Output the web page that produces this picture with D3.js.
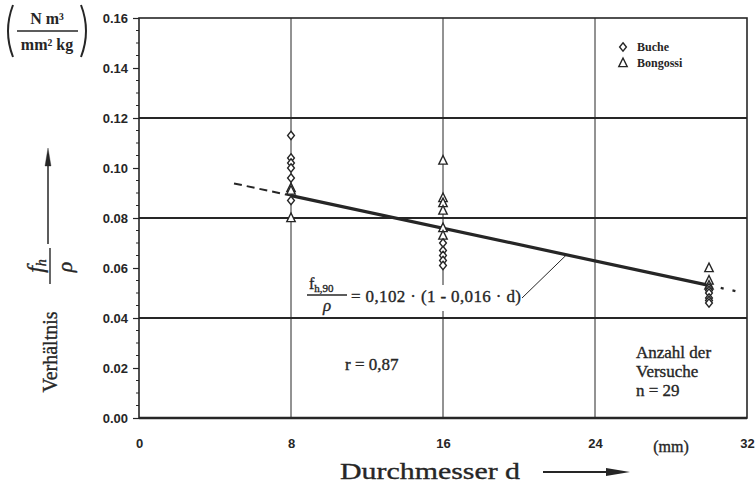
<!DOCTYPE html>
<html>
<head>
<meta charset="utf-8">
<script src="https://cdn.jsdelivr.net/npm/d3@7"></script>
<style>
  html, body { margin: 0; padding: 0; background: #fff; }
  svg { display: block; }
  .serif { font-family: "Liberation Serif", "DejaVu Serif", serif; }
  .sans { font-family: "Liberation Sans", Arial, sans-serif; }
  .ink { stroke: #262626; stroke-width: 0.35px; }
</style>
</head>
<body>
<svg id="chart" width="755" height="488"></svg>
<script>
// Diameters (mm) and ratio f_h / rho for both wood species
const bucheD = [8, 8, 8, 8, 8, 8, 16, 16, 16, 16, 16, 30, 30, 30, 30, 30, 30];
const bucheV = [0.113, 0.104, 0.102, 0.100, 0.096, 0.087,
                0.070, 0.067, 0.065, 0.063, 0.061,
                0.052, 0.051, 0.050, 0.048, 0.047, 0.046];
const bongD = [8, 8, 8, 16, 16, 16, 16, 16, 16, 30, 30, 30];
const bongV = [0.092, 0.091, 0.080,
               0.103, 0.088, 0.086, 0.083, 0.076, 0.073,
               0.060, 0.055, 0.053];

// Regression f_h,90 / rho = a * (1 - b * d)
const fitA = 0.102;
const fitB = 0.016;
const fitSolid = [8, 30];
const fitDashed = [5, 8];
const fitDotted = [30, 31.6];

const yTicks = [0.00, 0.02, 0.04, 0.06, 0.08, 0.10, 0.12, 0.14, 0.16];
const xTicks = [0, 8, 16, 24, 32];
const hGrid = [0.04, 0.08, 0.12];
const vGrid = [8, 16, 24];

const ink = "#262626";
const svg = d3.select("#chart");

const x = d3.scaleLinear().domain([0, 32]).range([139, 747]);
const y = d3.scaleLinear().domain([0, 0.16]).range([418, 18]);
const fit = d => fitA * (1 - fitB * d);

// grid
svg.append("g").selectAll("line").data(vGrid).join("line")
  .attr("x1", d => x(d)).attr("x2", d => x(d))
  .attr("y1", y(0)).attr("y2", y(0.16))
  .attr("stroke", ink).attr("stroke-width", 1);
svg.append("g").selectAll("line").data(hGrid).join("line")
  .attr("x1", x(0)).attr("x2", x(32))
  .attr("y1", d => y(d)).attr("y2", d => y(d))
  .attr("stroke", ink).attr("stroke-width", 2);

// frame
svg.append("rect")
  .attr("x", x(0)).attr("y", y(0.16))
  .attr("width", x(32) - x(0)).attr("height", y(0) - y(0.16))
  .attr("fill", "none").attr("stroke", ink).attr("stroke-width", 1.6);
svg.append("line")
  .attr("x1", x(0)).attr("x2", x(32)).attr("y1", y(0)).attr("y2", y(0))
  .attr("stroke", ink).attr("stroke-width", 2.6);

// y axis
const yAxis = svg.append("g").attr("transform", `translate(${x(0)},0)`)
  .call(d3.axisLeft(y).tickValues(yTicks).tickFormat(d3.format(".2f")).tickSize(6).tickPadding(5));
yAxis.select(".domain").remove();
yAxis.selectAll("line").attr("stroke", ink).attr("stroke-width", 1.2);
yAxis.selectAll("text").attr("class", "sans").attr("font-size", 13)
  .attr("fill", ink).attr("font-weight", 600);
const minor = d3.range(0, 0.1601, 0.005).filter(v => yTicks.every(t => Math.abs(t - v) > 1e-6));
svg.append("g").selectAll("line").data(minor).join("line")
  .attr("x1", x(0) - 3).attr("x2", x(0))
  .attr("y1", d => y(d)).attr("y2", d => y(d))
  .attr("stroke", ink).attr("stroke-width", 1);

// x axis labels
const xAxis = svg.append("g").attr("transform", `translate(0,${y(0)})`)
  .call(d3.axisBottom(x).tickValues(xTicks).tickSize(0).tickPadding(21));
xAxis.select(".domain").remove();
xAxis.selectAll("text").attr("class", "sans").attr("font-size", 13)
  .attr("fill", ink).attr("font-weight", 600);
svg.append("text").attr("class", "serif ink")
  .attr("x", x(28.0)).attr("y", 452).attr("text-anchor", "middle")
  .attr("font-size", 16).attr("fill", ink).text("(mm)");

// regression line
const fitLine = d3.line().x(d => x(d)).y(d => y(fit(d)));
svg.append("path").datum(fitSolid).attr("d", fitLine)
  .attr("stroke", ink).attr("stroke-width", 3.2).attr("fill", "none");
svg.append("path").datum(fitDashed).attr("d", fitLine)
  .attr("stroke", ink).attr("stroke-width", 2).attr("stroke-dasharray", "8,5").attr("fill", "none");
svg.append("path").datum(fitDotted).attr("d", fitLine)
  .attr("stroke", ink).attr("stroke-width", 2.4).attr("stroke-dasharray", "3,9").attr("fill", "none");

// markers
const diamond = "M0,-4.2L3.4,0L0,4.2L-3.4,0Z";
const triangle = "M0,-5L4.2,3.6L-4.2,3.6Z";
svg.append("g").selectAll("path").data(bongD.map((d, i) => [d, bongV[i]])).join("path")
  .attr("d", triangle)
  .attr("transform", p => `translate(${x(p[0])},${y(p[1])})`)
  .attr("fill", "#fff").attr("stroke", ink).attr("stroke-width", 1.4);
svg.append("g").selectAll("path").data(bucheD.map((d, i) => [d, bucheV[i]])).join("path")
  .attr("d", diamond)
  .attr("transform", p => `translate(${x(p[0])},${y(p[1])})`)
  .attr("fill", "#fff").attr("stroke", ink).attr("stroke-width", 1.4);

// legend
const legend = svg.append("g");
legend.append("path").attr("d", diamond).attr("transform", "translate(623,47)")
  .attr("fill", "#fff").attr("stroke", ink).attr("stroke-width", 1.4);
legend.append("path").attr("d", triangle).attr("transform", "translate(623,63)")
  .attr("fill", "#fff").attr("stroke", ink).attr("stroke-width", 1.4);
legend.append("text").attr("class", "serif").attr("x", 637).attr("y", 51)
  .attr("font-size", 12).attr("font-weight", "bold").attr("fill", ink).text("Buche");
legend.append("text").attr("class", "serif").attr("x", 637).attr("y", 67)
  .attr("font-size", 12).attr("font-weight", "bold").attr("fill", ink).text("Bongossi");

// regression formula with leader, on a white patch over the grid
svg.append("rect").attr("x", 349).attr("y", 285).attr("width", 174).attr("height", 26)
  .attr("fill", "#fff");
const fg = svg.append("g").attr("class", "serif ink").attr("fill", ink);
const num = fg.append("text").attr("x", 309).attr("y", 289).attr("font-size", 16);
num.append("tspan").text("f");
num.append("tspan").attr("font-size", 11).attr("dy", 3).text("h,90");
fg.append("line").attr("x1", 307).attr("x2", 347).attr("y1", 295).attr("y2", 295)
  .attr("stroke", ink).attr("stroke-width", 1.3);
fg.append("text").attr("x", 327).attr("y", 311).attr("text-anchor", "middle")
  .attr("font-size", 17).attr("font-style", "italic").text("ρ");
fg.append("text").attr("x", 351).attr("y", 302).attr("font-size", 17)
  .attr("textLength", 170).attr("lengthAdjust", "spacing")
  .text("= 0,102 · (1 - 0,016 · d)");
svg.append("line").attr("x1", 522).attr("y1", 298)
  .attr("x2", x(22.5)).attr("y2", y(fit(22.5)))
  .attr("stroke", ink).attr("stroke-width", 1);

svg.append("text").attr("class", "serif ink").attr("x", 345).attr("y", 370)
  .attr("font-size", 17).attr("fill", ink).text("r = 0,87");

const nt = svg.append("text").attr("class", "serif ink").attr("font-size", 17).attr("fill", ink);
["Anzahl der", "Versuche", "n = 29"].forEach((s, i) =>
  nt.append("tspan").attr("x", 636).attr("y", 358 + i * 19).text(s));

// unit label
const ug = svg.append("g").attr("class", "serif").attr("fill", ink).attr("font-weight", "bold");
ug.append("path").attr("d", "M13,5 Q3,31 13,57").attr("fill", "none").attr("stroke", ink).attr("stroke-width", 2);
ug.append("path").attr("d", "M81,5 Q91,31 81,57").attr("fill", "none").attr("stroke", ink).attr("stroke-width", 2);
ug.append("text").attr("x", 47).attr("y", 24).attr("text-anchor", "middle").attr("font-size", 16).text("N m³");
ug.append("line").attr("x1", 17).attr("x2", 78).attr("y1", 31).attr("y2", 31).attr("stroke", ink).attr("stroke-width", 1.4);
ug.append("text").attr("x", 47).attr("y", 50).attr("text-anchor", "middle").attr("font-size", 16).text("mm² kg");

// y axis title (rotated)
const yt = svg.append("g").attr("class", "serif ink").attr("fill", ink);
yt.append("text").attr("transform", "translate(57,352) rotate(-90)")
  .attr("text-anchor", "middle").attr("font-size", 20).text("Verhältnis");
const fh = yt.append("text").attr("transform", "translate(43,266) rotate(-90)")
  .attr("text-anchor", "middle").attr("font-size", 24).attr("font-style", "italic");
fh.append("tspan").text("f");
fh.append("tspan").attr("font-size", 14).attr("dy", 3).text("h");
yt.append("line").attr("x1", 50).attr("x2", 50).attr("y1", 248).attr("y2", 284)
  .attr("stroke", ink).attr("stroke-width", 1.4);
yt.append("text").attr("transform", "translate(72,267) rotate(-90)")
  .attr("text-anchor", "middle").attr("font-size", 22).attr("font-style", "italic").text("ρ");
yt.append("line").attr("x1", 48).attr("x2", 48).attr("y1", 244).attr("y2", 162)
  .attr("stroke", ink).attr("stroke-width", 1.5);
yt.append("path").attr("d", "M48,148 L51,166 L45,166 Z").attr("fill", ink);

// x axis title with arrow
svg.append("text").attr("class", "serif ink").attr("x", 340).attr("y", 479)
  .attr("font-size", 24).attr("fill", ink)
  .attr("textLength", 180).attr("lengthAdjust", "spacingAndGlyphs")
  .text("Durchmesser d");
svg.append("line").attr("x1", 543).attr("x2", 612).attr("y1", 472).attr("y2", 472)
  .attr("stroke", ink).attr("stroke-width", 2);
svg.append("path").attr("d", "M630,472 L606,468 L606,476 Z").attr("fill", ink);
</script>
</body>
</html>
